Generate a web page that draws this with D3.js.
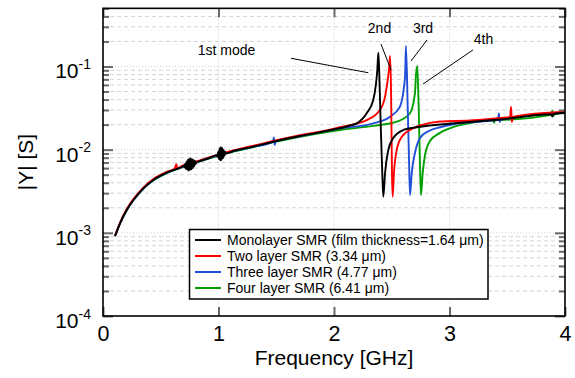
<!DOCTYPE html>
<html><head><meta charset="utf-8">
<script src="https://cdn.jsdelivr.net/npm/d3@7"></script>
<style>body{margin:0;background:#fff;} text{font-family:"Liberation Sans",Arial,sans-serif;fill:#000;}</style>
</head><body><svg id="c" width="575" height="378"></svg>
<script>
// ---------- data ----------
const seriesNames = ["Monolayer SMR (film thickness=1.64 \u03bcm)", "Two layer SMR (3.34 \u03bcm)", "Three layer SMR (4.77 \u03bcm)", "Four layer SMR (6.41 \u03bcm)"];
const seriesColors = ["#000000", "#ff0000", "#1f4fd8", "#00a000"];
const xTickValues = [0, 1, 2, 3, 4];
const xTickLabels = ["0", "1", "2", "3", "4"];
const yTickValues = [1e-4, 1e-3, 1e-2, 1e-1];
const yTickExponents = ["-4", "-3", "-2", "-1"];
const annotationLabels = ["1st mode", "2nd", "3rd", "4th"];
// annotation anchors in data units: [textF, textY, lineF1, lineY1, lineF2, lineY2]
const annotationAnchors = [
  [1.07, 0.139, 1.628, 0.1255, 2.297, 0.0841],
  [2.394, 0.25, 2.407, 0.186, 2.494, 0.0908],
  [2.771, 0.253, 2.805, 0.208, 2.667, 0.1164],
  [3.294, 0.184, 3.203, 0.158, 2.771, 0.0616]
];

// Monolayer (black)
const monoFreq = [0.104,0.147,0.205,0.263,0.349,0.436,0.551,0.667,
  0.700,0.706,0.712,0.718,0.724,0.730,0.736,0.742,0.748,0.754,0.760,0.766,0.772,0.778,0.784,0.790,0.796,0.802,0.808,
  0.840,0.920,
  0.985,0.991,0.997,1.003,1.009,1.015,1.021,1.027,1.033,1.039,1.045,1.051,1.057,1.063,
  1.128,1.273,1.475,1.706,1.850,1.994,2.052,2.139,2.197,2.283,2.340,2.364,2.375,2.384,2.392,2.404,2.418,2.427,
  2.442,2.470,2.513,2.600,2.716,2.918,3.177,3.437,3.880,3.890,3.900,4.000];
const monoY = [9.16e-4,1.30e-3,1.88e-3,2.48e-3,3.43e-3,4.32e-3,5.28e-3,6.07e-3,
  6.35e-3,6.1e-3,6.8e-3,5.9e-3,7.2e-3,5.7e-3,7.6e-3,5.6e-3,7.8e-3,5.7e-3,7.9e-3,5.8e-3,7.7e-3,6.0e-3,7.5e-3,6.3e-3,7.3e-3,6.7e-3,7.0e-3,
  7.31e-3,7.94e-3,
  8.6e-3,8.2e-3,9.4e-3,7.7e-3,10.4e-3,7.4e-3,10.8e-3,7.5e-3,10.5e-3,7.9e-3,9.9e-3,8.4e-3,9.4e-3,9.0e-3,
  9.63e-3,1.067e-2,1.246e-2,1.46e-2,1.59e-2,1.748e-2,1.81e-2,1.952e-2,2.07e-2,2.74e-2,3.95e-2,6.28e-2,9.08e-2,0.1466,8.28e-2,2.07e-2,5.2e-3,2.72e-3,
  5.24e-3,9.91e-3,1.381e-2,1.724e-2,1.86e-2,2.007e-2,2.153e-2,2.305e-2,2.66e-2,2.50e-2,2.68e-2,2.774e-2];

// Two layer (red)
const twoFreq = [0.104,0.147,0.205,0.263,0.349,0.436,0.551,0.620,0.635,0.645,0.667,0.840,1.128,1.273,1.475,1.706,1.994,2.052,2.197,2.283,2.398,2.442,2.465,2.477,2.485,2.494,2.502,2.508,
  2.519,2.543,2.586,2.687,2.745,2.918,3.177,3.437,3.525,3.533,3.540,3.548,4.000];
const twoY = [9.2e-4,1.32e-3,1.92e-3,2.54e-3,3.50e-3,4.42e-3,5.40e-3,5.9e-3,6.7e-3,5.9e-3,6.2e-3,7.45e-3,9.8e-3,1.09e-2,1.27e-2,1.49e-2,1.78e-2,1.86e-2,2.06e-2,2.27e-2,3.00e-2,4.34e-2,6.89e-2,9.5e-2,0.1336,5.21e-2,5.2e-3,2.72e-3,
  5.24e-3,9.91e-3,1.42e-2,1.81e-2,1.952e-2,2.182e-2,2.243e-2,2.403e-2,2.48e-2,3.26e-2,2.15e-2,2.48e-2,2.851e-2];

// Three layer (blue)
const threeFreq = [0.104,0.147,0.205,0.263,0.349,0.436,0.551,0.667,0.840,1.128,1.273,1.470,1.480,1.486,1.495,1.706,1.994,2.052,2.340,2.485,2.571,2.606,2.616,2.623,2.638,2.649,2.658,
  2.673,2.701,2.745,2.831,2.918,3.048,3.177,3.420,3.428,3.434,3.442,4.000];
const threeY = [9.1e-4,1.29e-3,1.87e-3,2.47e-3,3.40e-3,4.30e-3,5.25e-3,6.05e-3,7.28e-3,9.6e-3,1.062e-2,1.24e-2,1.40e-2,1.14e-2,1.26e-2,1.45e-2,1.74e-2,1.80e-2,2.07e-2,2.49e-2,3.29e-2,5.72e-2,8.0e-2,0.176,3.29e-2,8.22e-3,2.85e-3,
  5.24e-3,9.12e-3,1.381e-2,1.70e-2,1.86e-2,2.035e-2,2.133e-2,2.28e-2,2.72e-2,2.15e-2,2.29e-2,2.774e-2];

// Four layer (green)
const fourFreq = [0.104,0.147,0.205,0.263,0.349,0.436,0.551,0.667,0.840,1.128,1.273,1.475,1.706,1.994,2.052,2.340,2.543,2.658,2.701,2.714,2.7175,2.721,2.733,2.745,2.753,
  2.768,2.788,2.831,2.918,3.048,3.177,3.380,3.386,3.392,3.437,3.880,3.890,3.900,3.910,4.000];
const fourY = [9.1e-4,1.29e-3,1.86e-3,2.46e-3,3.39e-3,4.28e-3,5.22e-3,6.0e-3,7.22e-3,9.5e-3,1.05e-2,1.23e-2,1.43e-2,1.677e-2,1.724e-2,1.93e-2,2.17e-2,2.74e-2,4.77e-2,9.6e-2,8.4e-2,0.1014,3.29e-2,6.24e-3,2.85e-3,
  5.24e-3,8.63e-3,1.271e-2,1.59e-2,1.90e-2,2.092e-2,2.25e-2,2.1e-2,2.26e-2,2.27e-2,2.62e-2,2.95e-2,2.55e-2,2.66e-2,2.76e-2];

const allSeries = [
  {freq: monoFreq, val: monoY},
  {freq: twoFreq, val: twoY},
  {freq: threeFreq, val: threeY},
  {freq: fourFreq, val: fourY}
];

// ---------- chart ----------
const svg = d3.select("#c");
svg.append("rect").attr("width",575).attr("height",378).attr("fill","#fff");
const L=103, R=565, T=8.35, B=316;
const x = d3.scaleLinear().domain([0,4]).range([L,R]);
const y = d3.scaleLog().domain([1e-4,0.5]).range([B,T]);

// minor values
const yMinor = [];
yTickValues.forEach(d => { for (let k=2;k<=9;k++){ const v=d*k; if (v<=0.5+1e-12) yMinor.push(v);} });

// grid
const grid = svg.append("g");
grid.selectAll(".hm").data(yMinor).join("line")
  .attr("x1",L).attr("x2",R).attr("y1",d=>y(d)).attr("y2",d=>y(d))
  .attr("stroke","#d4d4d4").attr("stroke-width",1).attr("stroke-dasharray","4,3");
grid.selectAll(".hM").data(yTickValues.slice(1)).join("line")
  .attr("x1",L).attr("x2",R).attr("y1",d=>y(d)).attr("y2",d=>y(d))
  .attr("stroke","#cfcfcf").attr("stroke-width",1).attr("stroke-dasharray","1,2");
grid.selectAll(".v").data(xTickValues.slice(1,-1)).join("line")
  .attr("x1",d=>x(d)).attr("x2",d=>x(d)).attr("y1",T).attr("y2",B)
  .attr("stroke","#cfcfcf").attr("stroke-width",1).attr("stroke-dasharray","1,2");

// curves
svg.append("clipPath").attr("id","clip").append("rect").attr("x",L).attr("y",T).attr("width",R-L).attr("height",B-T);
const line = d3.line().x(d=>x(d[0])).y(d=>y(d[1])).curve(d3.curveMonotoneX);
const curves = svg.append("g").attr("clip-path","url(#clip)");
[3,2,1,0].forEach(i => {
  const s = allSeries[i];
  const pts = s.freq.map((f,j)=>[f, s.val[j]]);
  curves.append("path").attr("d", line(pts)).attr("fill","none")
    .attr("stroke", seriesColors[i]).attr("stroke-width",1.9).attr("stroke-linejoin","round");
});

// axes (ticks inward)
function clean(g){ g.select(".domain").remove(); g.selectAll(".tick line").attr("stroke","#6a6a6a").attr("stroke-width",2); }
svg.append("g").attr("transform",`translate(${L},0)`).call(d3.axisLeft(y).tickValues(yMinor).tickSize(-6).tickFormat("")).call(clean);
svg.append("g").attr("transform",`translate(${L},0)`).call(d3.axisLeft(y).tickValues(yTickValues).tickSize(-10).tickFormat("")).call(clean);
svg.append("g").attr("transform",`translate(${R},0)`).call(d3.axisRight(y).tickValues(yMinor).tickSize(-6).tickFormat("")).call(clean);
svg.append("g").attr("transform",`translate(${R},0)`).call(d3.axisRight(y).tickValues(yTickValues).tickSize(-10).tickFormat("")).call(clean);
svg.append("g").attr("transform",`translate(0,${T})`).call(d3.axisTop(x).tickValues(xTickValues).tickSize(-9).tickFormat("")).call(clean);
const xb = svg.append("g").attr("transform",`translate(0,${B})`)
  .call(d3.axisBottom(x).tickValues(xTickValues).tickSize(-9).tickPadding(9.5).tickFormat((d,i)=>xTickLabels[i])).call(clean);
xb.selectAll(".tick text").attr("font-size",21.5).attr("font-family","Liberation Sans, Arial, sans-serif").attr("fill","#000");

// y tick labels with superscripts
const yl = svg.append("g");
yTickValues.forEach((v,i) => {
  const t = yl.append("text").attr("x",L-12).attr("y",y(v)+12).attr("text-anchor","end");
  t.append("tspan").attr("font-size",21).text("10");
  t.append("tspan").attr("font-size",14).attr("dy",-9.5).text(yTickExponents[i]);
});

// frame
svg.append("rect").attr("x",L).attr("y",T).attr("width",R-L).attr("height",B-T)
  .attr("fill","none").attr("stroke","#000").attr("stroke-width",1.6);

// axis titles
svg.append("text").attr("x",(L+R)/2).attr("y",365).attr("text-anchor","middle").attr("font-size",21).text("Frequency [GHz]");
svg.append("text").attr("transform","translate(32.5,162) rotate(-90)").attr("text-anchor","middle").attr("font-size",21).text("|Y| [S]");

// annotations
const ann = svg.append("g");
annotationAnchors.forEach((a,i) => {
  ann.append("text").attr("x",x(a[0])).attr("y",y(a[1])).attr("text-anchor","middle")
    .attr("font-size",14).text(annotationLabels[i]);
  ann.append("line").attr("x1",x(a[2])).attr("y1",y(a[3])).attr("x2",x(a[4])).attr("y2",y(a[5]))
    .attr("stroke","#000").attr("stroke-width",1);
});

// legend
const lg = svg.append("g");
lg.append("rect").attr("x",189.5).attr("y",229.5).attr("width",298.5).attr("height",69.5)
  .attr("fill","#fff").attr("stroke","#000").attr("stroke-width",1.5);
seriesNames.forEach((n,i) => {
  const yy = 240 + i*16;
  lg.append("line").attr("x1",195).attr("x2",221).attr("y1",yy).attr("y2",yy)
    .attr("stroke",seriesColors[i]).attr("stroke-width",2);
  lg.append("text").attr("x",227).attr("y",yy+5).attr("font-size",14).text(n);
});
</script>
</body></html>
